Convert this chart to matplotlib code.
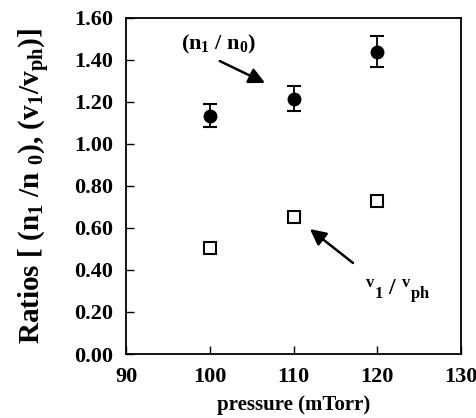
import matplotlib
matplotlib.use("Agg")
import matplotlib.pyplot as plt

plt.rcParams["font.family"] = ["Liberation Serif", "DejaVu Serif"]
plt.rcParams["font.weight"] = "bold"
plt.rcParams["mathtext.fontset"] = "custom"
plt.rcParams["mathtext.rm"] = "Liberation Serif:bold"
plt.rcParams["mathtext.it"] = "Liberation Serif:bold"
plt.rcParams["mathtext.bf"] = "Liberation Serif:bold"

pressure = [100, 110, 120]
n_ratio = [1.132, 1.214, 1.437]
n_err = [0.055, 0.06, 0.073]
v_ratio = [0.502, 0.650, 0.727]
v_err = [0.015, 0.018, 0.018]

fig = plt.figure(figsize=(4.77, 4.18), dpi=100)
ax = fig.add_axes([126 / 477, 1 - 354 / 418, 335 / 477, 336.5 / 418])

ax.errorbar(pressure, n_ratio, yerr=n_err, fmt="o", color="black",
            markersize=9, capsize=5, elinewidth=1.3, capthick=1.5)
ax.errorbar(pressure, v_ratio, yerr=v_err, fmt="s", color="black",
            markerfacecolor="white", markeredgewidth=1.5, markersize=8,
            capsize=3, elinewidth=1.0, capthick=1.0)

ax.set_xlim(90, 130)
ax.set_ylim(0, 1.6)
ax.set_xticks([90, 100, 110, 120, 130])
ax.set_yticks([0, 0.2, 0.4, 0.6, 0.8, 1.0, 1.2, 1.4, 1.6])
ax.set_yticklabels([f"{v:.2f}" for v in ax.get_yticks()])
ax.tick_params(direction="in", length=6, width=1, labelsize=16, pad=9,
               top=False, right=False)
for s in ax.spines.values():
    s.set_linewidth(1.3)

ax.set_xlabel("pressure (mTorr)", fontsize=15, fontweight="bold", labelpad=6)
ax.set_ylabel(r"Ratios [ (n$_1$ /n $_0$), (v$_1$/v$_{\rm ph}$)]",
              fontsize=21, fontweight="bold")
ax.yaxis.set_label_coords(-0.221, 0.5)

# labels and arrows
ax.text(101.0, 1.47, r"(n$_1$ / n$_0$)", fontsize=16, ha="center", va="center")
ax.annotate("", xy=(106.6, 1.289), xytext=(101.2, 1.393),
            arrowprops=dict(arrowstyle="-|>", color="black", lw=1.8,
                            mutation_scale=24, shrinkA=0, shrinkB=0))
ax.text(122.5, 0.30, r"$^{\rm v}$$_1$ / $^{\rm v}$$_{\rm ph}$", fontsize=17,
        ha="center", va="center")
ax.annotate("", xy=(111.96, 0.594), xytext=(117.1, 0.433),
            arrowprops=dict(arrowstyle="-|>", color="black", lw=1.8,
                            mutation_scale=24, shrinkA=0, shrinkB=0))

fig.savefig("out.png", dpi=100)
